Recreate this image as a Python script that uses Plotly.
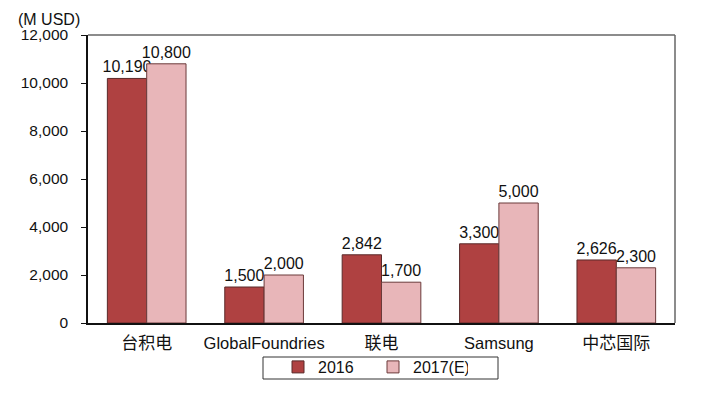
import plotly.graph_objects as go

categories = ["台积电", "GlobalFoundries", "联电", "Samsung", "中芯国际"]
values_2016 = [10190, 1500, 2842, 3300, 2626]
values_2017 = [10800, 2000, 1700, 5000, 2300]
series_names = ["2016", "2017(E)"]
y_ticks = [0, 2000, 4000, 6000, 8000, 10000, 12000]

font_main = "Liberation Sans, Arial, Noto Sans CJK SC, sans-serif"

def cat_label(c):
    if any(ord(ch) > 127 for ch in c):
        return f"<span style='font-size:17px'>{c}</span>"
    return c

W, H = 700, 390
L, R, T, B = 80, 33, 27, 75
pw, ph = W - L - R, H - T - B

def px_x(x):
    return (x - 8 - L) / pw

def px_y(y):
    return (H - B - (y - 8)) / ph

fig = go.Figure()
fig.add_trace(go.Bar(
    x=categories, y=values_2016, name=series_names[0],
    marker=dict(color="#AF4141", line=dict(color="#5a2a2a", width=1)),
    text=[f"{v:,}" for v in values_2016], textposition="outside",
    constraintext="none",
    textfont=dict(size=16, color="#111"), cliponaxis=False,
))
fig.add_trace(go.Bar(
    x=categories, y=values_2017, name=series_names[1],
    marker=dict(color="#E8B6B9", line=dict(color="#6b3a3a", width=1)),
    text=[f"{v:,}" for v in values_2017], textposition="outside",
    constraintext="none",
    textfont=dict(size=16, color="#111"), cliponaxis=False,
))

fig.update_layout(
    width=W, height=H,
    margin=dict(l=L, r=R, t=T, b=B, autoexpand=False),
    barmode="group", bargap=0.33, bargroupgap=0,
    plot_bgcolor="white", paper_bgcolor="white",
    font=dict(family=font_main, size=16, color="#111"),
    showlegend=True,
    legend=dict(
        orientation="h", x=px_x(278), xanchor="left", y=px_y(350), yanchor="top",
        borderwidth=0, font=dict(size=16), bgcolor="rgba(0,0,0,0)",
        entrywidth=50, itemwidth=30,
    ),
    annotations=[dict(
        text="(M USD)", xref="paper", yref="paper", x=px_x(16), y=px_y(30),
        xanchor="left", yanchor="bottom", showarrow=False, font=dict(size=16),
    )],
    shapes=[
        dict(type="line", xref="paper", yref="paper", x0=0, x1=1, y0=1, y1=1,
             line=dict(color="#666", width=1.5)),
        dict(type="line", xref="paper", yref="paper", x0=1, x1=1, y0=0, y1=1,
             line=dict(color="#666", width=1.5)),
        dict(type="rect", xref="paper", yref="paper",
             x0=px_x(263), x1=px_x(498), y0=px_y(357), y1=px_y(379),
             line=dict(color="#333", width=1)),
    ],
)
fig.update_yaxes(
    range=[0, 12000], tickvals=y_ticks, tickformat=",",
    showgrid=False, showline=True, linecolor="#111", linewidth=1.5,
    ticks="outside", ticklen=5, tickcolor="#111", tickfont=dict(size=15.5),
    ticklabelstandoff=10, zeroline=False, automargin=False,
)
fig.update_xaxes(
    showline=True, linecolor="#111", linewidth=1.5, ticks="",
    tickvals=categories, ticktext=[cat_label(c) for c in categories],
    tickfont=dict(size=16.5), automargin=False, ticklabelstandoff=4,
)

fig.write_html("out.html")
